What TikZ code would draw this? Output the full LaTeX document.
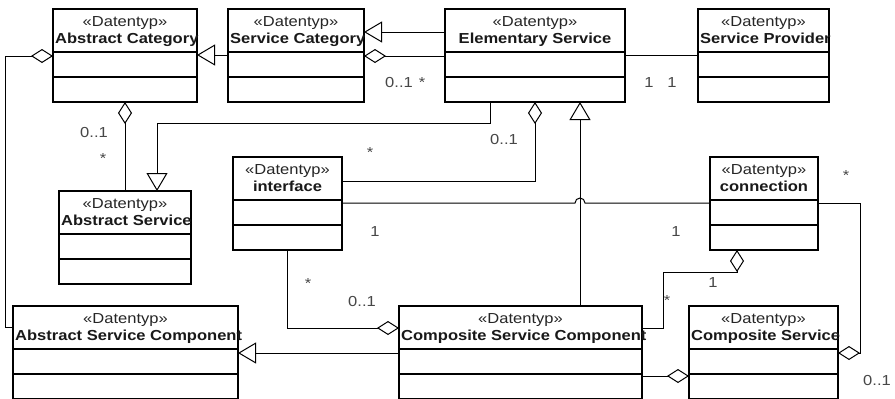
\documentclass[tikz,border=0pt]{standalone}
\usepackage{fontspec}
\setmainfont[FakeStretch=1.14]{Liberation Sans}
\usetikzlibrary{arrows.meta,calc}

\tikzset{
  classbox/.style={draw=black, line width=2pt, fill=white, inner sep=0pt, outer sep=0pt},
  divider/.style={draw=black, line width=2pt},
  stereo/.style={inner sep=0pt, text=black!85, font=\fontsize{14.5}{16}\selectfont},
  cname/.style={inner sep=0pt, text=black!90, font=\fontsize{14.5}{16}\selectfont\bfseries},
  mult/.style={inner sep=0pt, text=black!72, font=\fontsize{14.5}{16}\selectfont, anchor=base},
  conn/.style={draw=black, line width=1pt},
  gen/.style={conn, -{Triangle[length=18pt,width=21pt,fill=white]}},
  agg/.style={conn, -{Diamond[length=22pt,width=14pt,fill=white]}},
}

% #1 node name, #2 left x, #3 top y, #4 right x, #5 class name,
% #6 c = class name centred, l = class name set from the left edge
\newcommand\umlclass[6]{%
  \node[classbox, minimum width={(#4-#2)*1pt}, minimum height=93pt, anchor=north west] (#1) at (#2,#3) {};
  \draw[divider] ([yshift=-43pt]#1.north west) -- ([yshift=-43pt]#1.north east);
  \draw[divider] ([yshift=-68pt]#1.north west) -- ([yshift=-68pt]#1.north east);
  \node[stereo, anchor=base] (#1-st) at ([yshift=-17pt]#1.north) {«Datentyp»};
  \if#6l
    \node[cname, anchor=base west] (#1-nm) at ([xshift=2pt,yshift=-34pt]#1.north west) {#5};
  \else
    \node[cname, anchor=base] (#1-nm) at ([yshift=-34pt]#1.north) {#5};
  \fi
}

\begin{document}
\begin{tikzpicture}[x=1pt, y=-1pt]
\useasboundingbox[fill=white] (0,0) rectangle (895,399);

% classes
\umlclass{ac}{53}{9}{197}{Abstract Category}{l}
\umlclass{sc}{228}{9}{364}{Service Category}{l}
\umlclass{es}{445}{9}{625}{Elementary Service}{c}
\umlclass{sp}{698}{9}{829}{Service Provider}{l}
\umlclass{as}{59}{191}{191}{Abstract Service}{l}
\umlclass{if}{233}{157}{342}{interface}{c}
\umlclass{cn}{710}{157}{818}{connection}{c}
\umlclass{asc}{13}{306}{238}{Abstract Service Component}{l}
\umlclass{csc}{399}{306}{642}{Composite Service Component}{l}
\umlclass{cs}{689}{306}{838}{Composite Service}{l}

% generalizations
\draw[gen] ([yshift=-46pt]sc.north west) -- ([yshift=-46pt]ac.north east);
\draw[gen] ([yshift=-23pt]es.north west) -- ([yshift=-23pt]sc.north east);
\draw[gen] ([xshift=45pt]es.south west) -- ++(0,21) -| ([xshift=98pt]as.north west);
\draw[gen] ([xshift=181pt]csc.north west) -- ([xshift=135pt]es.south west);
\draw[gen] ([yshift=-47pt]csc.north west) -- ([yshift=-47pt]asc.north east);

% aggregations
\draw[agg] ([yshift=-47pt]es.north west) -- ([yshift=-47pt]sc.north east);
\draw[agg] ([yshift=-21pt]asc.north west) -| ([xshift=-48pt,yshift=-47pt]ac.north west) -- ([yshift=-47pt]ac.north west);
\draw[agg] (as.north) -- (ac.south);
\draw[agg] ([yshift=-24pt]if.north east) -| (es.south);
\draw[agg] (if.south) |- ([yshift=-22pt]csc.north west);
\draw[agg] ([yshift=-22pt]csc.north east) -- ++(21,0) |- ([xshift=27pt,yshift=-22pt]cn.south west) -- ([xshift=27pt]cn.south west);
\draw[agg] ([yshift=-70pt]csc.north east) -- ([yshift=-70pt]cs.north west);
\draw[agg] ([yshift=-46pt]cn.north east) -- ++(42,0) |- ([yshift=-47pt]cs.north east);

% associations
\draw[conn] ([yshift=-46pt]es.north east) -- ([yshift=-46pt]sp.north west);
\coordinate (ifr) at ([yshift=-46pt]if.north east);
\coordinate (hop) at ([xshift=181pt]csc.north west |- ifr);
\draw[conn] (ifr) -- ([xshift=-5pt]hop) arc[start angle=180, end angle=0, radius=5pt] -- ([yshift=-46pt]cn.north west);

% multiplicities
\node[mult] (m1) at (399,87) {0..1};
\node[mult] (m2) at (422,87) {*};
\node[mult] (m3) at (94,137) {0..1};
\node[mult] (m4) at (103,163) {*};
\node[mult] (m5) at (504,144) {0..1};
\node[mult] (m6) at (370,157) {*};
\node[mult] (m7) at (649,87) {1};
\node[mult] (m8) at (672,87) {1};
\node[mult] (m9) at (846,180) {*};
\node[mult] (m10) at (375,236) {1};
\node[mult] (m11) at (676,236) {1};
\node[mult] (m12) at (308,288) {*};
\node[mult] (m13) at (362,306) {0..1};
\node[mult] (m14) at (713,287) {1};
\node[mult] (m15) at (667,305) {*};
\node[mult] (m16) at (877,385) {0..1};
\end{tikzpicture}
\end{document}
